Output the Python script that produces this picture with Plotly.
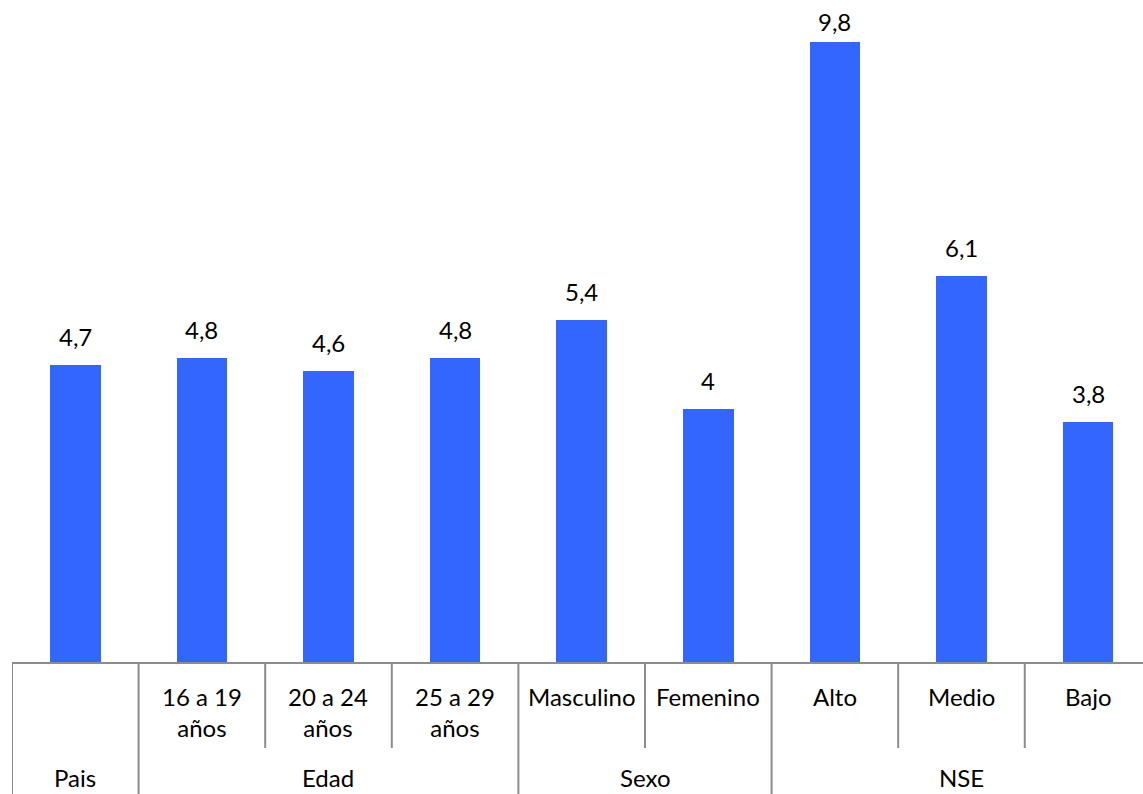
import plotly.graph_objects as go

# Categories (inner level), their group (outer level) and values
categorias = ["", "16 a 19<br>años", "20 a 24<br>años", "25 a 29<br>años",
              "Masculino", "Femenino", "Alto", "Medio", "Bajo"]
grupos = ["Pais", "Edad", "Edad", "Edad", "Sexo", "Sexo", "NSE", "NSE", "NSE"]
valores = [4.7, 4.8, 4.6, 4.8, 5.4, 4.0, 9.8, 6.1, 3.8]
etiquetas = ["4,7", "4,8", "4,6", "4,8", "5,4", "4", "9,8", "6,1", "3,8"]

FONT = "Lato"
SIZE = 24
AZUL = "#3366FF"
GRIS = "#8c8c8c"
n = len(valores)
xs = list(range(n))

fig = go.Figure()
fig.add_trace(go.Bar(
    x=xs, y=valores, width=0.40,
    marker=dict(color=AZUL, line=dict(width=0)),
    hoverinfo="skip",
))

annotations = []
# value labels above bars (the tallest one is kept inside the top edge)
vmax = max(valores)
for i, (v, t) in enumerate(zip(valores, etiquetas)):
    annotations.append(dict(x=i, y=v, xref="x", yref="y", text=t,
                            showarrow=False, yanchor="bottom",
                            yshift=4 if v == vmax else 12,
                            font=dict(family=FONT, size=SIZE, color="black")))
# inner category labels
for i, c in enumerate(categorias):
    if c:
        annotations.append(dict(x=i, y=0, xref="x", yref="paper", text=c,
                                showarrow=False, yanchor="top", yshift=-18,
                                font=dict(family=FONT, size=SIZE, color="black")))

# outer group labels and divider lines
shapes = []
inicio = 0
for i in range(1, n + 1):
    if i == n or grupos[i] != grupos[inicio]:
        centro = (inicio + i - 1) / 2
        annotations.append(dict(x=centro, y=0, xref="x", yref="paper",
                                text=grupos[inicio], showarrow=False,
                                yanchor="middle", yshift=-115,
                                font=dict(family=FONT, size=SIZE, color="black")))
        inicio = i

for i in range(n):
    full = i == 0 or grupos[i] != grupos[i - 1]
    y1 = -140 / 662 if full else -86 / 662
    shapes.append(dict(type="line", xref="x", yref="paper",
                       x0=i - 0.5, x1=i - 0.5, y0=0, y1=y1,
                       line=dict(color=GRIS, width=2)))

fig.update_layout(
    width=1143, height=794,
    margin=dict(l=12, r=0, t=0, b=132),
    paper_bgcolor="white", plot_bgcolor="white",
    showlegend=False,
    annotations=annotations,
    shapes=shapes,
    bargap=0,
    xaxis=dict(range=[-0.5, 8.434], showticklabels=False, ticks="",
               showgrid=False, zeroline=False, showline=True,
               linecolor=GRIS, linewidth=2, fixedrange=True),
    yaxis=dict(range=[0, 10.463], visible=False, showgrid=False,
               zeroline=False, fixedrange=True),
)

fig.write_html("out.html", config={"displayModeBar": False})
